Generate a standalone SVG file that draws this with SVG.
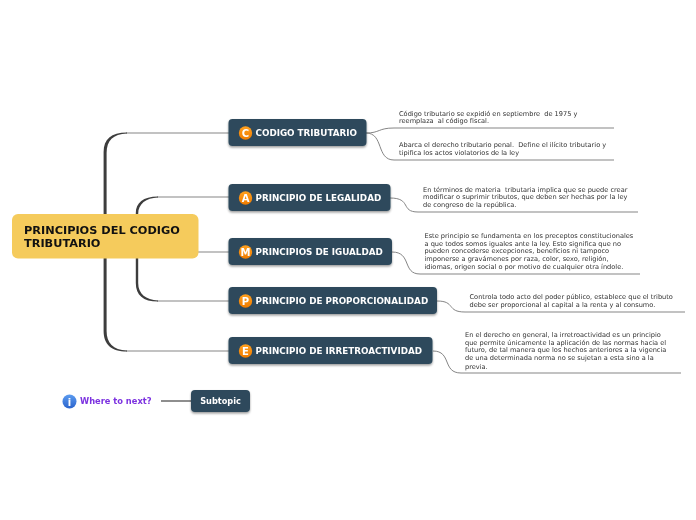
<svg xmlns="http://www.w3.org/2000/svg" width="696" height="520" viewBox="0 0 696 520">
<defs>
<filter id="sh" x="-10%" y="-20%" width="120%" height="150%"><feDropShadow dx="0" dy="1.5" stdDeviation="1" flood-color="#000" flood-opacity="0.4"/></filter>
<linearGradient id="orange" x1="0" y1="0" x2="0" y2="1"><stop offset="0" stop-color="#ffa01e"/><stop offset="1" stop-color="#f07c00"/></linearGradient>
<linearGradient id="blue" x1="0" y1="0" x2="0" y2="1"><stop offset="0" stop-color="#5c9cf0"/><stop offset="1" stop-color="#2a63cc"/></linearGradient>
</defs>
<style>
text{font-family:"DejaVu Sans",Verdana,sans-serif;white-space:pre;opacity:.995}
.box{fill:#2d4a5c;filter:url(#sh)}
.t{font-size:8.77px;font-weight:700;fill:#fff}
.ic{font-size:10px;font-weight:700;fill:#fff;text-anchor:middle}
.d{font-size:6.6px;fill:#333}
.c{fill:none;stroke:#858585;stroke-width:1}
.tr{fill:#3d3d3d}
</style>
<rect width="696" height="520" fill="#fff"/>
<g id="connectors">
<path class="c" d="M126 133H229"/><path class="c" d="M126 351H229"/>
<path class="c" d="M157 197H229"/><path class="c" d="M157 301H229"/>
<path class="tr" d="M103.600 214V152C103.600 139 111 132.500 127 132.400V133.600C113 134 106.600 141 106.600 153V214Z"/>
<path class="tr" d="M103.600 258V331C103.600 344 111 351.600 127 351.600V350.400C113 350 106.600 343 106.600 331V258Z"/>
<path class="tr" d="M135.800 214V213C135.800 203 143 196.400 158 196.400V197.600C146 198 138.200 204 138.200 214Z"/>
<path class="tr" d="M135.800 258V283C135.800 295 143 301.600 158 301.600V300.400C146 300 138.200 294 138.200 283V258Z"/>
<path class="c" d="M198 252H229"/>
<path class="c" d="M366 133C380 133 378 128 394 128H614"/>
<path class="c" d="M366 133C384 133 376 160 394 160H614"/>
<path class="c" d="M390 198C412 198 400 212 418 212H638"/>
<path class="c" d="M392 252C412 252 402 274 420 274H640"/>
<path class="c" d="M437 301C456 301 446 312 465 312H685"/>
<path class="c" d="M433 351C452 351 442 373 461 373H681"/>
<path d="M161 401H191" stroke="#444" stroke-width="1.2" fill="none"/>
</g>
<g id="root"><rect x="12" y="214" width="186.500" height="44.500" rx="6" fill="#f5cb5c"/>
<text x="24" y="234" font-size="11.300" font-weight="700" fill="#111">PRINCIPIOS DEL CODIGO</text>
<text x="24" y="247" font-size="11.300" font-weight="700" fill="#111">TRIBUTARIO</text></g>
<g id="n1"><rect class="box" x="228.500" y="119" width="138" height="27" rx="4"/><circle cx="245.500" cy="133" r="6.700" fill="url(#orange)"/><text class="ic" x="245.500" y="136.500">C</text><text class="t" x="255.500" y="136">CODIGO TRIBUTARIO</text></g>
<g id="n2"><rect class="box" x="228.500" y="184" width="162" height="27" rx="4"/><circle cx="245.500" cy="198" r="6.700" fill="url(#orange)"/><text class="ic" x="245.500" y="201.500">A</text><text class="t" x="255.500" y="201">PRINCIPIO DE LEGALIDAD</text></g>
<g id="n3"><rect class="box" x="228.500" y="238" width="163.500" height="27" rx="4"/><circle cx="245.500" cy="252" r="6.700" fill="url(#orange)"/><text class="ic" x="245.500" y="255.500">M</text><text class="t" x="255.500" y="255">PRINCIPIOS DE IGUALDAD</text></g>
<g id="n4"><rect class="box" x="228.500" y="287" width="208.500" height="27" rx="4"/><circle cx="245.500" cy="301" r="6.700" fill="url(#orange)"/><text class="ic" x="245.500" y="304.500">P</text><text class="t" x="255.500" y="304">PRINCIPIO DE PROPORCIONALIDAD</text></g>
<g id="n5"><rect class="box" x="228.500" y="337" width="204" height="27" rx="4"/><circle cx="245.500" cy="351" r="6.700" fill="url(#orange)"/><text class="ic" x="245.500" y="354.500">E</text><text class="t" x="255.500" y="354">PRINCIPIO DE IRRETROACTIVIDAD</text></g>
<g id="d1"><text class="d" x="399" y="116">Código tributario se expidió en septiembre  de 1975 y</text><text class="d" x="399" y="123">reemplaza  al código fiscal.</text></g>
<g id="d2"><text class="d" x="399" y="147">Abarca el derecho tributario penal.  Define el ilícito tributario y</text><text class="d" x="399" y="155">tipifica los actos violatorios de la ley</text></g>
<g id="d3"><text class="d" x="423" y="192">En términos de materia  tributaria implica que se puede crear</text><text class="d" x="423" y="199">modificar o suprimir tributos, que deben ser hechas por la ley</text><text class="d" x="423" y="207">de congreso de la república.</text></g>
<g id="d4"><text class="d" x="424.500" y="238">Este principio se fundamenta en los preceptos constitucionales</text><text class="d" x="424.500" y="246">a que todos somos iguales ante la ley. Esto significa que no</text><text class="d" x="424.500" y="253">pueden concederse excepciones, beneficios ni tampoco</text><text class="d" x="424.500" y="261">imponerse a gravámenes por raza, color, sexo, religión,</text><text class="d" x="424.500" y="269">idiomas, origen social o por motivo de cualquier otra índole.</text></g>
<g id="d5"><text class="d" x="469.500" y="299">Controla todo acto del poder público, establece que el tributo</text><text class="d" x="469.500" y="307">debe ser proporcional al capital a la renta y al consumo.</text></g>
<g id="d6"><text class="d" x="465" y="337">En el derecho en general, la irretroactividad es un principio</text><text class="d" x="465" y="345">que permite únicamente la aplicación de las normas hacia el</text><text class="d" x="465" y="352">futuro, de tal manera que los hechos anteriores a la vigencia</text><text class="d" x="465" y="360">de una determinada norma no se sujetan a esta sino a la</text><text class="d" x="465" y="369">previa.</text></g>
<g id="next"><circle cx="69.500" cy="401.500" r="7" fill="url(#blue)"/><text x="69.500" y="405.500" font-size="10" font-weight="700" fill="#fff" text-anchor="middle">i</text><text x="80" y="404" font-size="8.300" font-weight="700" fill="#7c32e0">Where to next?</text></g>
<g id="subtopic"><rect class="box" x="191" y="390" width="59" height="22" rx="4"/><text x="220.500" y="404" font-size="8.200" font-weight="700" fill="#fff" text-anchor="middle">Subtopic</text></g>
</svg>
